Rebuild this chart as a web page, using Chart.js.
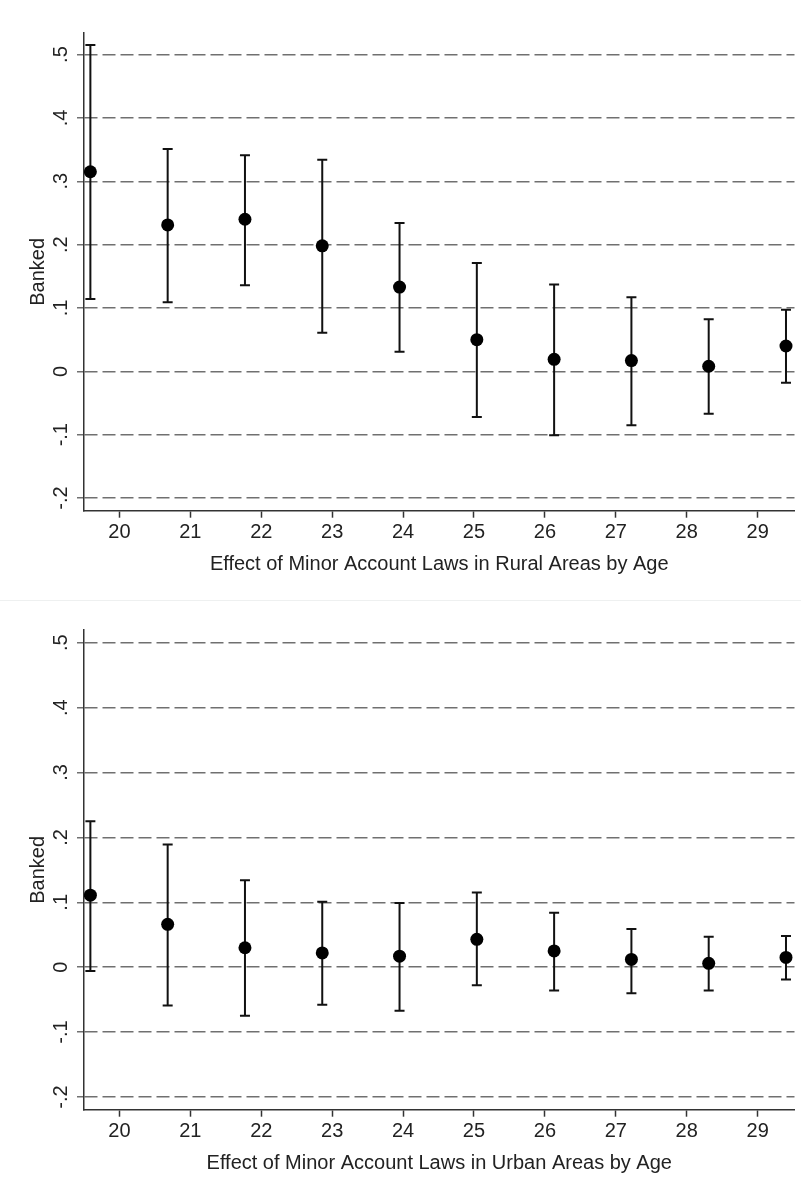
<!DOCTYPE html>
<html>
<head>
<meta charset="utf-8">
<script src="https://cdn.jsdelivr.net/npm/chart.js@4"></script>
<style>
  body { margin: 0; background: #fff; }
  .panel { display: block; }
  #bottom-wrap { border-top: 1px solid #eef0f0; }
</style>
</head>
<body>
<div><canvas id="rural" class="panel" width="801" height="600"></canvas></div>
<div id="bottom-wrap"><canvas id="urban" class="panel" width="801" height="591"></canvas></div>
<script>
// ages where the estimates sit
const ages = [19.59, 20.68, 21.77, 22.86, 23.95, 25.04, 26.13, 27.22, 28.31, 29.40];
const xTicks = [20, 21, 22, 23, 24, 25, 26, 27, 28, 29];
const yTicks = [-0.2, -0.1, 0, 0.1, 0.2, 0.3, 0.4, 0.5];
const yTickLabels = ['-.2', '-.1', '0', '.1', '.2', '.3', '.4', '.5'];

const ruralEst = [0.315, 0.231, 0.240, 0.198, 0.133, 0.050, 0.019, 0.017, 0.008, 0.040];
const ruralHi  = [0.515, 0.351, 0.341, 0.334, 0.234, 0.171, 0.137, 0.117, 0.082, 0.097];
const ruralLo  = [0.114, 0.109, 0.136, 0.061, 0.031, -0.072, -0.101, -0.085, -0.067, -0.018];

const urbanEst = [0.111, 0.066, 0.030, 0.022, 0.017, 0.043, 0.025, 0.012, 0.006, 0.015];
const urbanHi  = [0.225, 0.189, 0.134, 0.101, 0.099, 0.115, 0.084, 0.059, 0.047, 0.048];
const urbanLo  = [-0.006, -0.059, -0.075, -0.058, -0.067, -0.028, -0.036, -0.040, -0.036, -0.019];

const FONT = 'Liberation Sans, Arial, Helvetica, sans-serif';

// draws the confidence intervals under the points
const errorBars = {
    id: 'errorBars',
    beforeDatasetsDraw(chart, args, opts) {
        const ctx = chart.ctx;
        const xs = chart.scales.x, ys = chart.scales.y;
        ctx.save();
        ctx.strokeStyle = '#111';
        ctx.lineWidth = 2;
        opts.lo.forEach((lo, i) => {
            const x = xs.getPixelForValue(ages[i]);
            const y1 = ys.getPixelForValue(lo);
            const y2 = ys.getPixelForValue(opts.hi[i]);
            ctx.beginPath();
            ctx.moveTo(x, y1); ctx.lineTo(x, y2);
            ctx.moveTo(x - 5, y1); ctx.lineTo(x + 5, y1);
            ctx.moveTo(x - 5, y2); ctx.lineTo(x + 5, y2);
            ctx.stroke();
        });
        ctx.restore();
    }
};

function makeChart(id, est, lo, hi, yMin, yMax, pad, title) {
    const ctx = document.getElementById(id).getContext('2d');
    return new Chart(ctx, {
        type: 'scatter',
        data: {
            datasets: [{
                data: est.map((v, i) => ({x: ages[i], y: v})),
                backgroundColor: '#000',
                borderWidth: 0,
                pointRadius: 6.5
            }]
        },
        options: {
            responsive: false,
            animation: false,
            layout: { padding: pad },
            plugins: {
                legend: { display: false },
                tooltip: { enabled: false },
                errorBars: { lo: lo, hi: hi }
            },
            scales: {
                x: {
                    type: 'linear',
                    min: 19.5,
                    max: 29.52,
                    afterBuildTicks: s => { s.ticks = xTicks.map(v => ({value: v})); },
                    afterFit: s => { s.height = 75; },
                    grid: {
                        drawOnChartArea: false,
                        drawTicks: true,
                        tickLength: 7,
                        tickColor: '#333',
                        tickWidth: 1.5
                    },
                    border: { color: '#333', width: 1.5 },
                    ticks: {
                        autoSkip: false,
                        maxRotation: 0,
                        padding: 2.6,
                        color: '#222',
                        font: { family: FONT, size: 20 },
                        callback: v => String(v)
                    },
                    title: {
                        display: true,
                        text: title,
                        color: '#222',
                        font: { family: FONT, size: 20 },
                        padding: { top: 0, bottom: 9 }
                    }
                },
                y: {
                    min: yMin,
                    max: yMax,
                    afterBuildTicks: s => { s.ticks = yTicks.map(v => ({value: v})); },
                    afterFit: s => { s.width = 84; },
                    grid: {
                        color: '#707070',
                        lineWidth: 1.5,
                        drawTicks: true,
                        tickLength: 7,
                        tickColor: '#707070',
                        tickWidth: 1.5
                    },
                    border: { color: '#333', width: 1.5, dash: [13, 5] },
                    ticks: {
                        autoSkip: false,
                        minRotation: 90,
                        maxRotation: 90,
                        crossAlign: 'center',
                        padding: 4.2,
                        color: '#222',
                        font: { family: FONT, size: 20 },
                        callback: (v, i) => yTickLabels[i]
                    },
                    title: {
                        display: true,
                        text: 'Banked',
                        color: '#222',
                        font: { family: FONT, size: 20 },
                        padding: { top: 26.1, bottom: 0 }
                    }
                }
            }
        },
        plugins: [errorBars]
    });
}

makeChart('rural', ruralEst, ruralLo, ruralHi, -0.22, 0.534,
    {left: 0, right: 6, top: 33, bottom: 14.3},
    'Effect of Minor Account Laws in Rural Areas by Age');
makeChart('urban', urbanEst, urbanLo, urbanHi, -0.2196, 0.5196,
    {left: 0, right: 6, top: 29, bottom: 7.3},
    'Effect of Minor Account Laws in Urban Areas by Age');
</script>
</body>
</html>
